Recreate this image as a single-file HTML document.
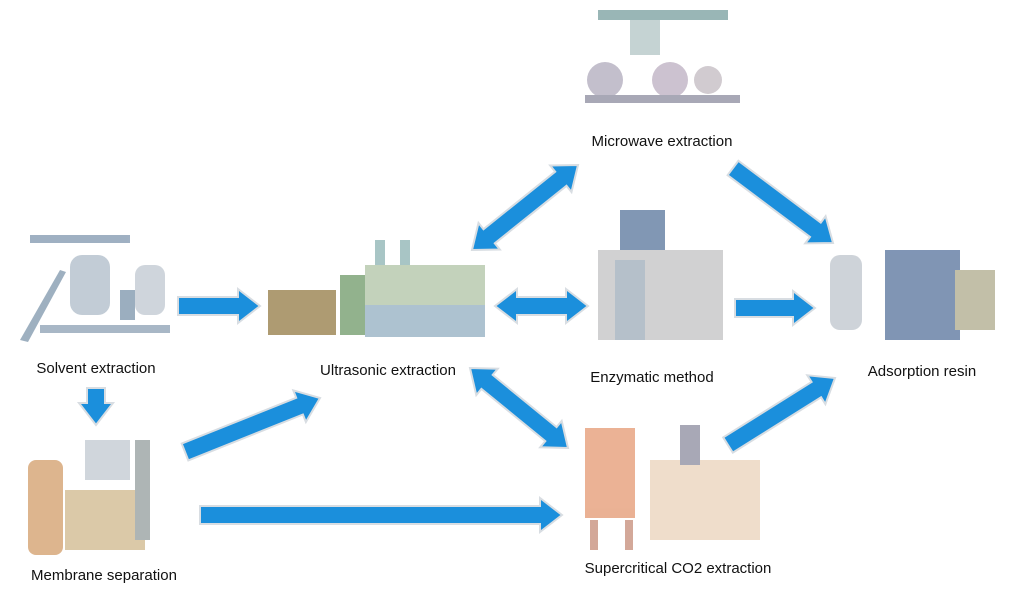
<!DOCTYPE html>
<html><head><meta charset="utf-8"><style>
body{margin:0;background:#fff;}
svg{display:block;font-family:"Liberation Sans",sans-serif;}
text{font-size:15px;fill:#111;text-anchor:middle;}
</style></head><body>
<svg id="s" width="1021" height="591" viewBox="0 0 1021 591">
<g opacity="0.85">
<rect x="30" y="235" width="100" height="8" fill="#8fa3b8"/>
<rect x="70" y="255" width="40" height="60" rx="12" fill="#b8c4cf"/>
<rect x="135" y="265" width="30" height="50" rx="10" fill="#c7ced6"/>
<rect x="120" y="290" width="15" height="30" fill="#8aa0b5"/>
<polygon points="20,340 60,270 66,272 28,342" fill="#8ea3b6"/>
<rect x="40" y="325" width="130" height="8" fill="#9aabbd"/>
<rect x="268" y="290" width="68" height="45" fill="#a08a5a"/>
<rect x="340" y="275" width="30" height="60" fill="#7fa57a"/>
<rect x="365" y="265" width="120" height="40" fill="#b9cbb0"/>
<rect x="365" y="305" width="120" height="32" fill="#9fb8c8"/>
<rect x="375" y="240" width="10" height="25" fill="#9bb"/><rect x="400" y="240" width="10" height="25" fill="#9bb"/>
<rect x="598" y="10" width="130" height="10" fill="#8aa"/>
<rect x="630" y="20" width="30" height="35" fill="#bcc"/>
<circle cx="605" cy="80" r="18" fill="#b9b4c4"/><circle cx="670" cy="80" r="18" fill="#c4b8c8"/><circle cx="708" cy="80" r="14" fill="#c9c2c8"/>
<rect x="585" y="95" width="155" height="8" fill="#99a"/>
<rect x="620" y="210" width="45" height="40" fill="#6c86a8"/>
<rect x="598" y="250" width="125" height="90" fill="#c9c9cb"/>
<rect x="615" y="260" width="30" height="80" fill="#a9b6c1"/>
<rect x="830" y="255" width="32" height="75" rx="10" fill="#c6ccd3"/>
<rect x="885" y="250" width="75" height="90" fill="#6a83a8"/>
<rect x="955" y="270" width="40" height="60" fill="#b8b49a"/>
<rect x="28" y="460" width="35" height="95" rx="8" fill="#d8a97b"/>
<rect x="85" y="440" width="45" height="40" fill="#c8d0d6"/>
<rect x="65" y="490" width="80" height="60" fill="#d5c09a"/>
<rect x="135" y="440" width="15" height="100" fill="#a0a9a9"/>
<rect x="585" y="428" width="50" height="90" fill="#e7a482"/>
<rect x="590" y="520" width="8" height="30" fill="#c98"/><rect x="625" y="520" width="8" height="30" fill="#c98"/>
<rect x="650" y="460" width="110" height="80" fill="#e6c8a8" opacity="0.7"/>
<rect x="680" y="425" width="20" height="40" fill="#99a"/>
</g>
<g id="arr"></g>
<text x="96" y="373">Solvent extraction</text>
<text x="388" y="375">Ultrasonic extraction</text>
<text x="662" y="146">Microwave extraction</text>
<text x="652" y="382">Enzymatic method</text>
<text x="922" y="376">Adsorption resin</text>
<text x="104" y="580">Membrane separation</text>
<text x="678" y="573">Supercritical CO2 extraction</text>
</svg>
<script>
var A=[[178,306,260,306,0],[495,306,588,306,1],[735,308,815,308,0],[472,250,578,165,1],[733,168,833,243,0],[470,368,568,448,1],[728,445,835,378,0],[96,388,96,425,0],[185,452,320,398,0],[200,515,562,515,0]];
var g=document.getElementById('arr'),ns='http://www.w3.org/2000/svg';
A.forEach(function(a){var x1=a[0],y1=a[1],x2=a[2],y2=a[3],d=a[4];
var L=Math.hypot(x2-x1,y2-y1),ux=(x2-x1)/L,uy=(y2-y1)/L,px=-uy,py=ux,w=9,hw=17,hl=22;
function P(t,s){return (x1+ux*t+px*s).toFixed(1)+','+(y1+uy*t+py*s).toFixed(1);}
var pts=[];var s0=d?hl:0,e0=L-hl;
pts.push(P(s0,w),P(e0,w),P(e0,hw),P(L,0),P(e0,-hw),P(e0,-w),P(s0,-w));
if(d){pts.push(P(s0,-hw),P(0,0),P(s0,hw));}
var p=document.createElementNS(ns,'polygon');p.setAttribute('points',pts.join(' '));
p.setAttribute('fill','#1b8fdc');p.setAttribute('stroke','#d8dde2');p.setAttribute('stroke-width','2');g.appendChild(p);});
</script>
</body></html>
